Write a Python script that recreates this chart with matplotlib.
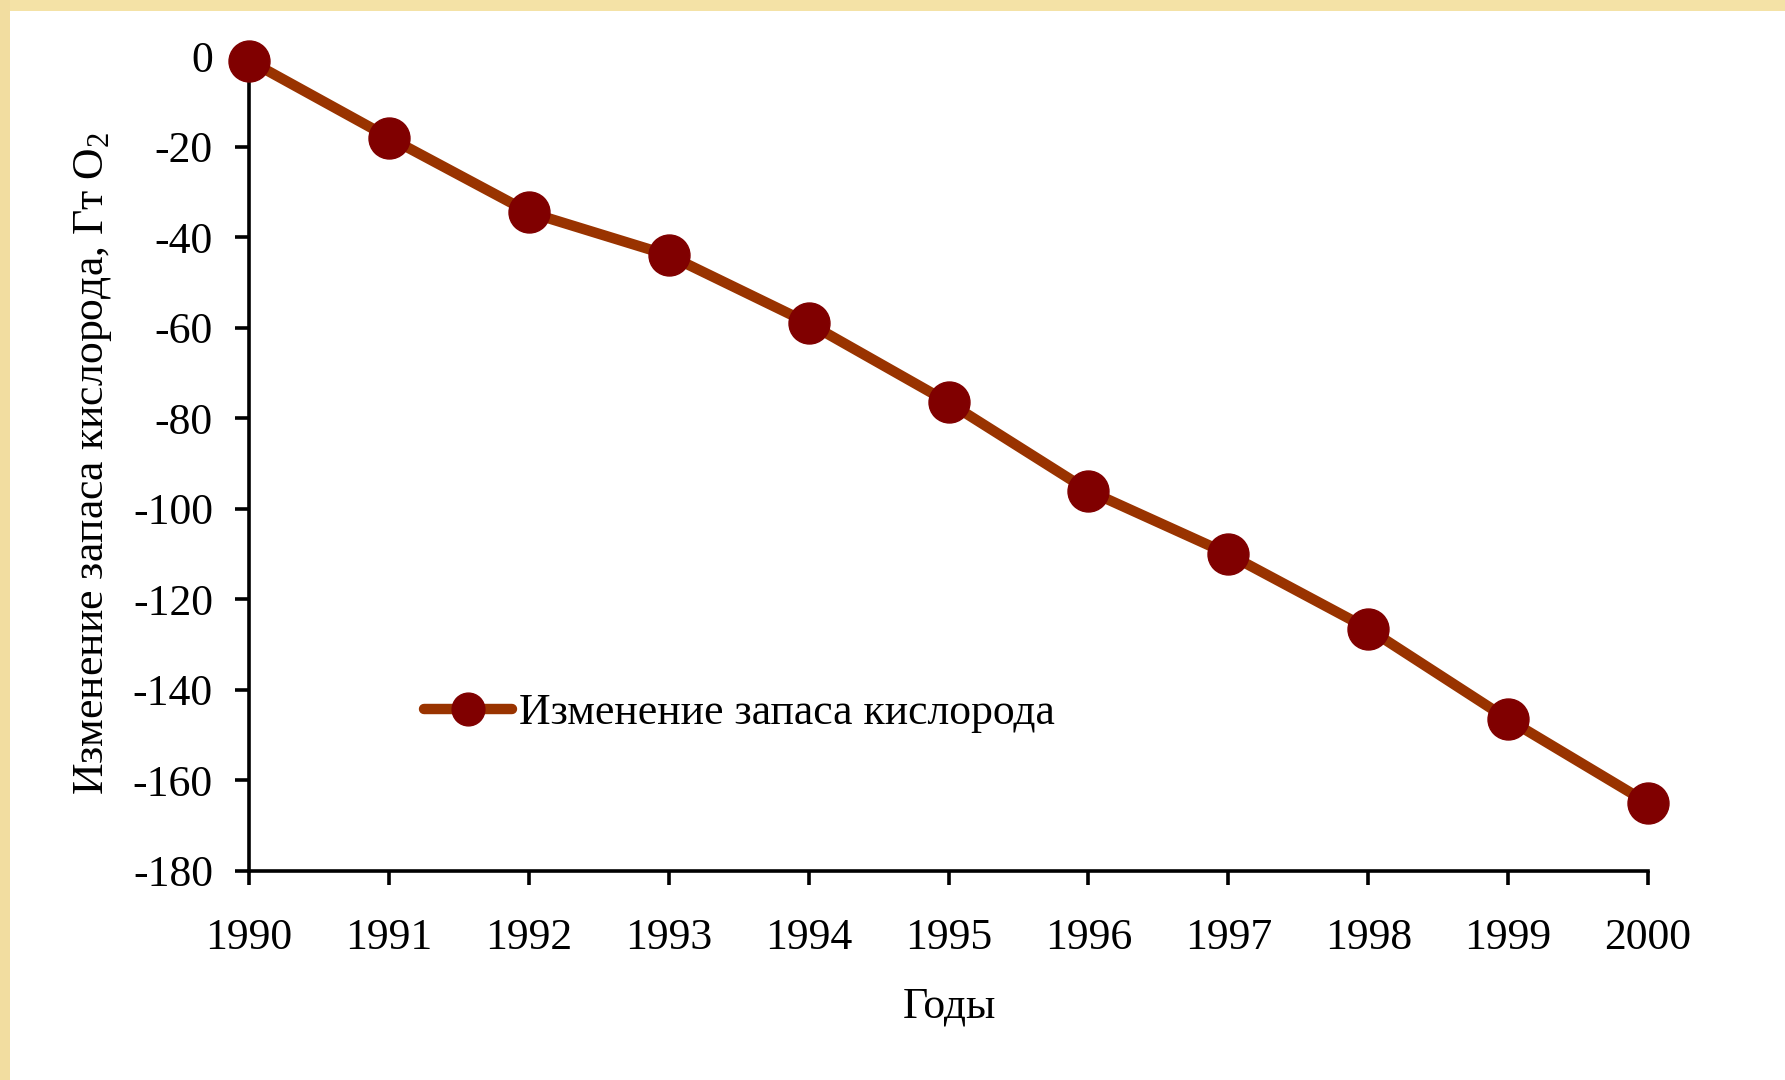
import matplotlib
matplotlib.use("Agg")
import matplotlib.pyplot as plt
from matplotlib.patches import Rectangle

years = [1990, 1991, 1992, 1993, 1994, 1995, 1996, 1997, 1998, 1999, 2000]
oxygen_change = [-1, -18, -34.5, -44, -59, -76.5, -96, -110, -126.5, -146.5, -165]
y_ticks = [0, -20, -40, -60, -80, -100, -120, -140, -160, -180]
series_label = "Изменение запаса кислорода"
x_label = "Годы"
y_label = "Изменение запаса кислорода, Гт O$_2$"

plt.rcParams['font.family'] = ['Liberation Serif', 'DejaVu Serif']
plt.rcParams['mathtext.fontset'] = 'custom'
plt.rcParams['mathtext.rm'] = 'Liberation Serif'
plt.rcParams['mathtext.it'] = 'Liberation Serif:italic'

FS = 31.5
W, H = 1785, 1080
fig = plt.figure(figsize=(W / 100, H / 100), dpi=100, facecolor='white')

# decorative beige strips (slide background)
fig.patches.append(Rectangle((0, 1 - 11 / H), 1, 11 / H, transform=fig.transFigure,
                             facecolor='#F4E2A6', edgecolor='none', zorder=0))
fig.patches.append(Rectangle((0, 0), 10 / W, 1, transform=fig.transFigure,
                             facecolor='#F2DDA0', edgecolor='none', zorder=0))

left, right = 249 / W, 1648 / W
bottom, top = 1 - 871 / H, 1 - 56 / H
ax = fig.add_axes([left, bottom, right - left, top - bottom])
ax.set_facecolor('none')

ax.plot(years, oxygen_change, color='#993300', linewidth=7.5, marker='o',
        markersize=29.5, markerfacecolor='#800000', markeredgecolor='#800000',
        label=series_label, clip_on=False, zorder=3, solid_capstyle='round')

ax.set_xlim(years[0], years[-1])
ax.set_ylim(-180, 0)
ax.set_xticks(years)
ax.set_yticks(y_ticks)
ax.set_yticklabels([str(v) for v in y_ticks])

for s in ['top', 'right']:
    ax.spines[s].set_visible(False)
for s in ['left', 'bottom']:
    ax.spines[s].set_linewidth(2.6)
    ax.spines[s].set_color('black')

ax.tick_params(axis='both', which='major', labelsize=FS, width=2.6, length=10,
               direction='out', colors='black')
ax.tick_params(axis='x', pad=24)
ax.tick_params(axis='y', pad=16)

ax.set_xlabel(x_label, fontsize=FS, va='center')
ax.set_ylabel(y_label, fontsize=FS, va='center')
ax.xaxis.set_label_coords((834 * 1785 / 1568 - 249) / (1648 - 249), (871 - 1006) / (871 - 56))
ax.yaxis.set_label_coords((93 - 249) / (1648 - 249), 0.5)

leg = ax.legend(loc='center left', bbox_to_anchor=((424 - 249) / (1648 - 249), (871 - 713) / (871 - 56)),
                frameon=False, fontsize=FS, handlelength=2.0, handletextpad=0.18,
                borderaxespad=0, borderpad=0, markerscale=0.8)

fig.savefig('out.png', dpi=100, facecolor='white')
